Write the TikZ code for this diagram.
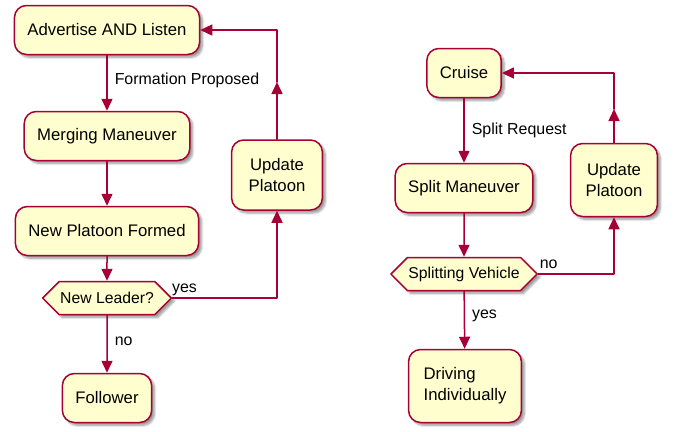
\documentclass[tikz,border=0pt]{standalone}
\usepackage{fontspec}
\setmainfont{Liberation Sans}
\usetikzlibrary{arrows.meta,shapes.symbols,shadows.blur}
\definecolor{umlfill}{HTML}{FEFECE}
\definecolor{umlred}{HTML}{A80036}
\tikzstyle{every node}=[font=\fontsize{16.8}{21}\selectfont]
\tikzstyle{every path}=[line width=1.5bp,line cap=round,line join=round]
\tikzstyle{shade}=[blur shadow={shadow xshift=3bp,shadow yshift=-3bp,shadow blur steps=6,shadow opacity=40}]
\tikzstyle{act}=[draw=umlred,fill=umlfill,rounded corners=12bp,inner xsep=13bp,minimum height=49bp,align=center,shade]
\tikzstyle{hexa}=[draw=umlred,fill=umlfill,shape=signal,signal to=east and west,signal pointer angle=90,
  minimum height=33bp,inner xsep=1bp,inner ysep=2bp,font=\fontsize{15.8}{19}\selectfont,shade]
\tikzstyle{flow}=[draw=umlred,-{Triangle[length=12bp,width=11bp]}]
\tikzstyle{lbl}=[font=\fontsize{16}{19}\selectfont,inner sep=1bp]

\begin{document}
\begin{tikzpicture}[x=1bp,y=1bp]
\useasboundingbox (0,0) rectangle (675,-431);
% forming a platoon
\node[act] (adv) at (107,-30) {Advertise AND Listen};
\node[act] (merge) at (107,-136) {Merging Maneuver};
\node[act] (formed) at (107,-231) {New Platoon Formed};
\node[hexa] (leader) at (107,-298) {New Leader?};
\node[act] (follower) at (107,-398) {Follower};
\node[act,minimum height=70bp,inner xsep=17bp] (upd1) at (277,-175) {Update\\Platoon};
\coordinate (m1) at (277,-82);
\draw[flow] (adv) -- node[lbl,right=6bp,pos=0.45] {Formation Proposed} (merge);
\draw[flow] (merge) -- (formed);
\draw[flow] (formed) -- (leader);
\draw[flow] (leader) -- node[lbl,right=6bp,pos=0.45] {no} (follower);
\draw[flow] (leader.east) -| node[lbl,pos=0,anchor=south west,xshift=-2bp] {yes} (upd1.south);
\draw[flow] (upd1.north) -- (m1);
\draw[flow] (m1) |- (adv.east);
% splitting
\node[act] (cruise) at (464,-73) {Cruise};
\node[act] (split) at (464,-188) {Split Maneuver};
\node[hexa] (splitveh) at (464,-274) {Splitting Vehicle};
\node[act,minimum height=73bp,align=left,inner xsep=15bp] (driving) at (465,-386) {Driving\\Individually};
\node[act,minimum height=73bp,inner xsep=15bp] (upd2) at (614,-180) {Update\\Platoon};
\coordinate (m2) at (614,-109);
\draw[flow] (cruise) -- node[lbl,right=6bp,pos=0.5] {Split Request} (split);
\draw[flow] (split) -- (splitveh);
\draw[flow] (splitveh) -- node[lbl,right=6bp,pos=0.42] {yes} (driving);
\draw[flow] (splitveh.east) -| node[lbl,pos=0,anchor=south west,yshift=4bp] {no} (upd2.south);
\draw[flow] (upd2.north) -- (m2);
\draw[flow] (m2) |- (cruise.east);
\end{tikzpicture}
\end{document}
